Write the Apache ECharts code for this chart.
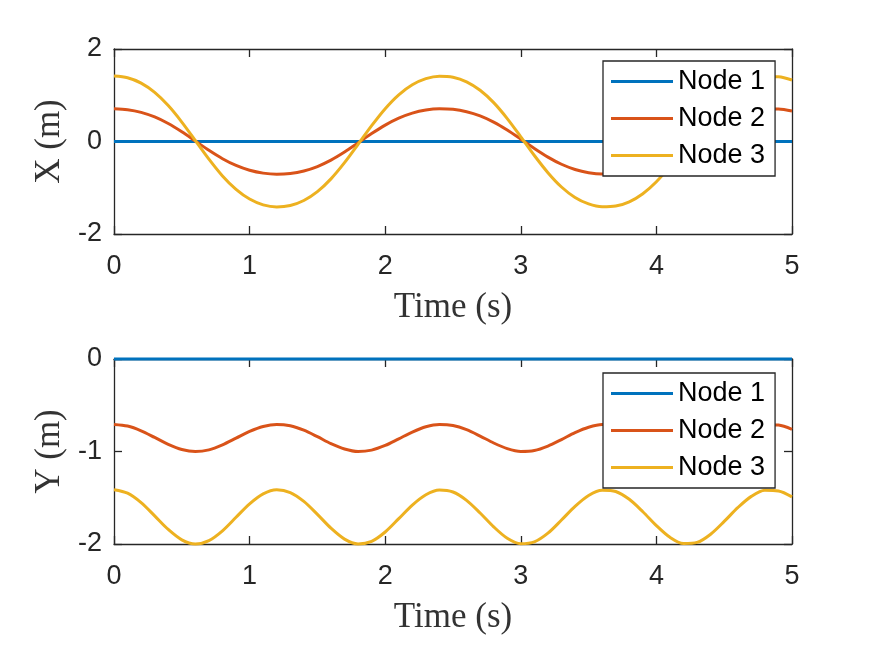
<!DOCTYPE html>
<html>
<head>
<meta charset="utf-8">
<script src="https://cdn.jsdelivr.net/npm/echarts@6/dist/echarts.min.js"></script>
<style>
  html, body { margin: 0; padding: 0; background: #fff; }
  #chart { width: 875px; height: 656px; }
</style>
</head>
<body>
<div id="chart"></div>
<script>
// time samples (s)
const time = [0, 0.1, 0.2, 0.3, 0.4, 0.5, 0.6, 0.7, 0.8, 0.9,
  1, 1.1, 1.2, 1.3, 1.4, 1.5, 1.6, 1.7, 1.8, 1.9,
  2, 2.1, 2.2, 2.3, 2.4, 2.5, 2.6, 2.7, 2.8, 2.9,
  3, 3.1, 3.2, 3.3, 3.4, 3.5, 3.6, 3.7, 3.8, 3.9,
  4, 4.1, 4.2, 4.3, 4.4, 4.5, 4.6, 4.7, 4.8, 4.9, 5]

// X positions (m)
const node1X = [0, 0, 0, 0, 0, 0, 0, 0, 0, 0, 0, 0, 0, 0, 0, 0, 0, 0, 0, 0, 0, 0, 0, 0, 0, 0,
  0, 0, 0, 0, 0, 0, 0, 0, 0, 0, 0, 0, 0, 0, 0, 0, 0, 0, 0, 0, 0, 0, 0, 0, 0]
const node2X = [0.707, 0.688, 0.630, 0.530, 0.388, 0.210, 0.010, -0.191, -0.372, -0.518,
  -0.622, -0.684, -0.707, -0.692, -0.638, -0.542, -0.404, -0.229, -0.031, 0.171,
  0.355, 0.505, 0.614, 0.680, 0.706, 0.695, 0.645, 0.554, 0.420, 0.248,
  0.051, -0.152, -0.337, -0.492, -0.605, -0.675, -0.705, -0.698, -0.652, -0.565,
  -0.435, -0.266, -0.071, 0.132, 0.321, 0.479, 0.595, 0.670, 0.704, 0.701, 0.658]
const node3X = [1.414, 1.377, 1.261, 1.061, 0.776, 0.420, 0.020, -0.381, -0.744, -1.035,
  -1.244, -1.369, -1.414, -1.384, -1.276, -1.085, -0.808, -0.458, -0.061, 0.342,
  0.710, 1.010, 1.227, 1.360, 1.413, 1.390, 1.290, 1.107, 0.840, 0.496,
  0.102, -0.303, -0.674, -0.984, -1.210, -1.350, -1.411, -1.396, -1.304, -1.129,
  -0.870, -0.533, -0.143, 0.263, 0.641, 0.957, 1.191, 1.340, 1.408, 1.401, 1.330]

// Y positions (m)
const node1Y = [0, 0, 0, 0, 0, 0, 0, 0, 0, 0, 0, 0, 0, 0, 0, 0, 0, 0, 0, 0, 0, 0, 0, 0, 0, 0,
  0, 0, 0, 0, 0, 0, 0, 0, 0, 0, 0, 0, 0, 0, 0, 0, 0, 0, 0, 0, 0, 0, 0, 0, 0]
const node2Y = [-0.707, -0.725, -0.776, -0.848, -0.922, -0.978, -1.000, -0.982, -0.928, -0.856,
  -0.783, -0.729, -0.707, -0.722, -0.770, -0.840, -0.915, -0.973, -1.000, -0.985,
  -0.935, -0.863, -0.790, -0.733, -0.708, -0.719, -0.764, -0.833, -0.908, -0.969,
  -0.999, -0.989, -0.941, -0.871, -0.796, -0.738, -0.709, -0.716, -0.758, -0.825,
  -0.900, -0.964, -0.998, -0.991, -0.947, -0.878, -0.803, -0.742, -0.710, -0.714, -0.760]
const node3Y = [-1.414, -1.451, -1.553, -1.696, -1.843, -1.955, -2.000, -1.963, -1.857, -1.711,
  -1.566, -1.458, -1.414, -1.444, -1.540, -1.680, -1.829, -1.947, -1.999, -1.971,
  -1.870, -1.726, -1.579, -1.467, -1.416, -1.438, -1.528, -1.665, -1.815, -1.938,
  -1.997, -1.977, -1.883, -1.741, -1.593, -1.475, -1.418, -1.432, -1.517, -1.651,
  -1.801, -1.928, -1.995, -1.983, -1.894, -1.756, -1.607, -1.485, -1.420, -1.427, -1.490]

const nodeNames = ['Node 1', 'Node 2', 'Node 3']
const nodeColors = ['#0072BD', '#D95319', '#EDB120']

const axisColor = '#262626'
const tickFont = { fontFamily: 'Liberation Sans', fontSize: 27, color: axisColor }
const nameFont = { fontFamily: 'Liberation Serif', fontSize: 35, color: '#333' }

const pairs = (ys) => time.map((t, i) => [t, ys[i]])

// bottom/left axes carry labels, top/right only ticks to close the box
const xAxisOf = (gridIndex, top) => ({
  type: 'value',
  gridIndex,
  position: top ? 'top' : 'bottom',
  min: 0,
  max: 5,
  interval: 1,
  name: top ? '' : 'Time (s)',
  nameLocation: 'middle',
  nameGap: 56,
  nameTextStyle: nameFont,
  axisLine: { show: true, onZero: false, lineStyle: { color: axisColor, width: 1.3 } },
  axisTick: { show: true, inside: true, length: 8, lineStyle: { color: axisColor, width: 1.3 } },
  axisLabel: { show: !top, margin: 19, ...tickFont },
  splitLine: { show: false }
})

const yAxisOf = (gridIndex, right, min, max, interval, name) => ({
  type: 'value',
  gridIndex,
  position: right ? 'right' : 'left',
  min,
  max,
  interval,
  name: right ? '' : name,
  nameLocation: 'middle',
  nameGap: 47,
  nameRotate: 90,
  nameTextStyle: nameFont,
  axisLine: { show: true, onZero: false, lineStyle: { color: axisColor, width: 1.3 } },
  axisTick: { show: true, inside: true, length: 8, lineStyle: { color: axisColor, width: 1.3 } },
  axisLabel: { show: !right, margin: 12, ...tickFont },
  splitLine: { show: false }
})

const lineSeries = (name, color, ys, axisIndex) => ({
  name,
  type: 'line',
  data: pairs(ys),
  xAxisIndex: axisIndex,
  yAxisIndex: axisIndex,
  symbol: 'none',
  smooth: 0.3,
  clip: false,
  lineStyle: { color, width: 3 },
  itemStyle: { color }
})

const legendOf = (top) => ({
  data: nodeNames,
  orient: 'vertical',
  left: 603,
  top,
  icon: 'rect',
  itemWidth: 62,
  itemHeight: 3,
  itemGap: 10,
  itemTextGap: 6,
  padding: [7, 10, 7, 8],
  backgroundColor: '#fff',
  borderColor: axisColor,
  borderWidth: 1.3,
  borderRadius: 0,
  selectedMode: false,
  textStyle: { fontFamily: 'Liberation Sans', fontSize: 27, lineHeight: 27, color: '#000' }
})

const chart = echarts.init(document.getElementById('chart'))
const option = {
  backgroundColor: '#fff',
  animation: false,
  grid: [
    { left: 114, top: 49, width: 678, height: 185 },
    { left: 114, top: 359, width: 678, height: 185 }
  ],
  xAxis: [xAxisOf(0, false), xAxisOf(1, false), xAxisOf(0, true), xAxisOf(1, true)],
  yAxis: [
    yAxisOf(0, false, -2, 2, 2, 'X (m)'),
    yAxisOf(1, false, -2, 0, 1, 'Y (m)'),
    yAxisOf(0, true, -2, 2, 2),
    yAxisOf(1, true, -2, 0, 1)
  ],
  legend: [legendOf(61), legendOf(373)],
  series: [
    lineSeries(nodeNames[0], nodeColors[0], node1X, 0),
    lineSeries(nodeNames[1], nodeColors[1], node2X, 0),
    lineSeries(nodeNames[2], nodeColors[2], node3X, 0),
    lineSeries(nodeNames[0], nodeColors[0], node1Y, 1),
    lineSeries(nodeNames[1], nodeColors[1], node2Y, 1),
    lineSeries(nodeNames[2], nodeColors[2], node3Y, 1)
  ]
}
option && chart.setOption(option)
</script>
</body>
</html>
